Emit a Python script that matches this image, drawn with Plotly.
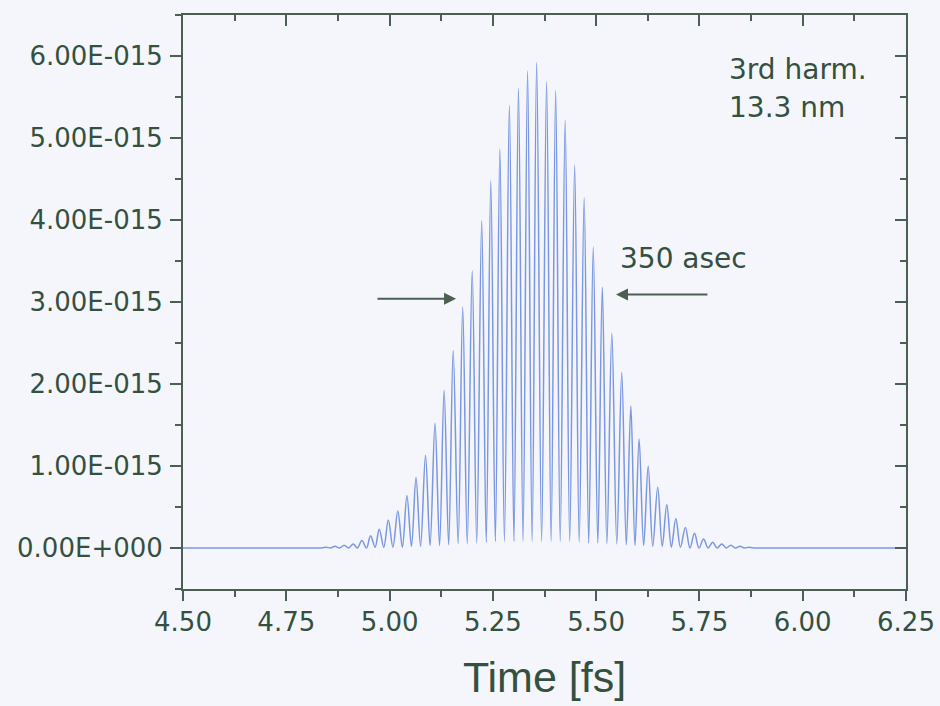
import plotly.graph_objects as go

# ---- data (time in fs, intensity in arbitrary units) ----
peak_t = [4.846, 4.868, 4.890, 4.912, 4.933, 4.954, 4.975, 4.997, 5.020, 5.042,
          5.064, 5.087, 5.110, 5.132, 5.154, 5.177, 5.200, 5.223, 5.245, 5.267,
          5.290, 5.312, 5.334, 5.356, 5.380, 5.402, 5.425, 5.448, 5.471, 5.493,
          5.515, 5.538, 5.562, 5.584, 5.604, 5.626, 5.649, 5.671, 5.693, 5.716,
          5.738, 5.760, 5.782, 5.804, 5.826, 5.848, 5.870]
peak_v = [0.01e-15, 0.02e-15, 0.035e-15, 0.05e-15, 0.09e-15, 0.15e-15, 0.23e-15, 0.34e-15, 0.45e-15, 0.64e-15,
          0.86e-15, 1.13e-15, 1.52e-15, 1.92e-15, 2.41e-15, 2.94e-15, 3.38e-15, 3.99e-15, 4.48e-15, 4.87e-15,
          5.40e-15, 5.61e-15, 5.82e-15, 5.92e-15, 5.69e-15, 5.58e-15, 5.22e-15, 4.67e-15, 4.27e-15, 3.67e-15,
          3.18e-15, 2.62e-15, 2.14e-15, 1.73e-15, 1.33e-15, 1.00e-15, 0.74e-15, 0.53e-15, 0.36e-15, 0.25e-15,
          0.18e-15, 0.11e-15, 0.07e-15, 0.05e-15, 0.035e-15, 0.02e-15, 0.01e-15]
trough_t = [4.835, 4.857, 4.879, 4.901, 4.922, 4.944, 4.965, 4.986, 5.008, 5.031, 5.053,
            5.075, 5.098, 5.121, 5.143, 5.166, 5.188, 5.211, 5.234, 5.256, 5.278,
            5.301, 5.323, 5.345, 5.368, 5.391, 5.413, 5.436, 5.459, 5.482, 5.504,
            5.526, 5.550, 5.573, 5.594, 5.615, 5.637, 5.660, 5.682, 5.704, 5.727,
            5.749, 5.771, 5.793, 5.815, 5.837, 5.859, 5.881]
trough_v = [0.0, 0.0, 0.0, 0.0, 0.0, 0.0, 0.01e-15, 0.01e-15, 0.01e-15, 0.01e-15, 0.02e-15,
            0.02e-15, 0.03e-15, 0.03e-15, 0.04e-15, 0.05e-15, 0.05e-15, 0.06e-15, 0.07e-15, 0.08e-15, 0.08e-15,
            0.08e-15, 0.08e-15, 0.08e-15, 0.08e-15, 0.08e-15, 0.08e-15, 0.08e-15, 0.07e-15, 0.06e-15, 0.06e-15,
            0.05e-15, 0.05e-15, 0.04e-15, 0.03e-15, 0.03e-15, 0.02e-15, 0.02e-15, 0.01e-15, 0.01e-15, 0.0,
            0.0, 0.0, 0.0, 0.0, 0.0, 0.0, 0.0]
left_base_t = [4.50, 4.835]
right_base_t = [5.881, 6.25]
base_v = [0.0, 0.0]

x_ticks = [4.50, 4.75, 5.00, 5.25, 5.50, 5.75, 6.00, 6.25]
x_ticktext = ["4.50", "4.75", "5.00", "5.25", "5.50", "5.75", "6.00", "6.25"]
y_ticks = [0.0, 1e-15, 2e-15, 3e-15, 4e-15, 5e-15, 6e-15]
y_ticktext = ["0.00E+000", "1.00E-015", "2.00E-015", "3.00E-015",
              "4.00E-015", "5.00E-015", "6.00E-015"]

# assemble the oscillating part from the read turning points
pts = sorted(list(zip(peak_t, peak_v)) + list(zip(trough_t, trough_v)))
xs = [p[0] for p in pts]
ys = [p[1] for p in pts]

TXT = "#34503f"
AX = "#4b6052"
BG = "#f4f6fb"
LINE = "#7b97e0"

fig = go.Figure()
for bt in (left_base_t, right_base_t):
    fig.add_trace(go.Scatter(x=bt, y=base_v, mode="lines",
                             line=dict(color=LINE, width=1.5),
                             hoverinfo="skip", showlegend=False))
fig.add_trace(go.Scatter(x=xs, y=ys, mode="lines",
                         line=dict(color=LINE, width=1.5, shape="spline", smoothing=1.0),
                         hoverinfo="skip", showlegend=False))
# invisible trace for the mirrored (inside-tick) top/right axes
fig.add_trace(go.Scatter(x=[left_base_t[0]], y=[base_v[0]], xaxis="x2", yaxis="y2",
                         mode="markers", marker=dict(opacity=0), hoverinfo="skip",
                         showlegend=False))

xr = [4.5, 6.25]
yr = [-0.5e-15, 6.5e-15]
tickfont = dict(family="DejaVu Sans", size=26, color=TXT)

fig.update_layout(
    width=940, height=706,
    margin=dict(l=183, r=34, t=15, b=117, autoexpand=False),
    paper_bgcolor=BG, plot_bgcolor=BG,
    xaxis=dict(range=xr, tickvals=x_ticks, ticktext=x_ticktext, ticks="outside",
               automargin=False,
               ticklen=10, tickwidth=2, tickcolor=AX, showline=True, linecolor=AX,
               linewidth=2, showgrid=False, zeroline=False, tickfont=tickfont,
               ticklabelstandoff=-1,
               minor=dict(ticks="outside", ticklen=6, tickwidth=2, tickcolor=AX,
                          dtick=0.125, tick0=4.5, showgrid=False),
               title=dict(text="Time [fs]", standoff=26,
                          font=dict(family="Liberation Sans", size=43, color=TXT))),
    yaxis=dict(range=yr, tickvals=y_ticks, ticktext=y_ticktext, ticks="outside",
               automargin=False,
               ticklen=11, tickwidth=2, tickcolor=AX, showline=True, linecolor=AX,
               linewidth=2, showgrid=False, zeroline=False, tickfont=tickfont,
               ticklabelstandoff=2,
               minor=dict(ticks="outside", ticklen=6, tickwidth=2, tickcolor=AX,
                          dtick=0.5e-15, tick0=0, showgrid=False)),
    xaxis2=dict(range=xr, overlaying="x", side="top", anchor="y2", tickvals=x_ticks,
                automargin=False,
                showticklabels=False, ticks="inside", ticklen=11, tickwidth=2,
                tickcolor=AX, showline=True, linecolor=AX, linewidth=2,
                showgrid=False, zeroline=False,
                minor=dict(ticks="inside", ticklen=6, tickwidth=2, tickcolor=AX,
                           dtick=0.125, tick0=4.5, showgrid=False)),
    yaxis2=dict(range=yr, overlaying="y", side="right", anchor="x2", tickvals=y_ticks,
                automargin=False,
                showticklabels=False, ticks="inside", ticklen=11, tickwidth=2,
                tickcolor=AX, showline=True, linecolor=AX, linewidth=2,
                showgrid=False, zeroline=False,
                minor=dict(ticks="inside", ticklen=6, tickwidth=2, tickcolor=AX,
                           dtick=0.5e-15, tick0=0, showgrid=False)),
)

afont = dict(family="DejaVu Sans", size=28, color=TXT)
fig.add_annotation(x=5.817, y=5.83e-15, xref="x", yref="y", text="3rd harm.",
                   showarrow=False, xanchor="left", yanchor="middle", font=afont)
fig.add_annotation(x=5.817, y=5.37e-15, xref="x", yref="y", text="13.3 nm",
                   showarrow=False, xanchor="left", yanchor="middle", font=afont)
fig.add_annotation(x=5.553, y=3.53e-15, xref="x", yref="y", text="350 asec",
                   showarrow=False, xanchor="left", yanchor="middle", font=afont)
# FWHM arrows
fig.add_annotation(x=5.161, y=3.04e-15, ax=4.967, ay=3.04e-15, xref="x", yref="y",
                   axref="x", ayref="y", text="", showarrow=True, arrowhead=2,
                   arrowsize=1.2, arrowwidth=2, arrowcolor=AX)
fig.add_annotation(x=5.548, y=3.09e-15, ax=5.773, ay=3.09e-15, xref="x", yref="y",
                   axref="x", ayref="y", text="", showarrow=True, arrowhead=2,
                   arrowsize=1.2, arrowwidth=2, arrowcolor=AX)

fig.write_html("out.html", config={"displayModeBar": False},
               post_script="document.body.style.margin='0';"
                           "document.body.style.background='#f4f6fb';")
